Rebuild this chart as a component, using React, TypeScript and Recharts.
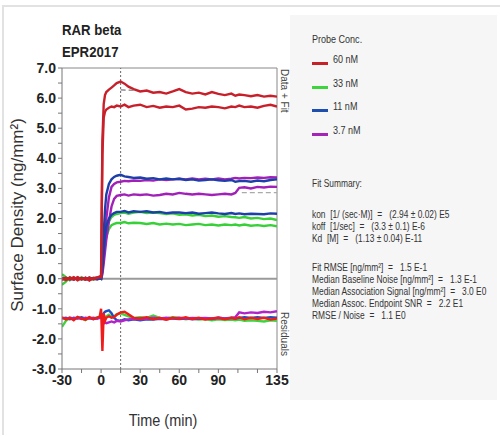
import React from 'react';
import { ComposedChart, Line, XAxis, YAxis, ReferenceLine } from 'recharts';

// sample times (min)
const time = [-30, -27, -24, -21, -18, -15, -12, -9, -6, -3, -1, 0, 1, 2, 3, 4, 6, 8, 10, 12, 15, 18, 21, 25,
  30, 35, 40, 45, 50, 55, 60, 65, 70, 75, 80, 85, 90, 95, 100, 103, 106, 110, 115, 120, 125, 130, 135];

// data + fit traces (ng/mm²)
const red60a = [0.02, -0.05, 0.04, -0.03, 0.05, -0.02, 0.03, -0.06, 0.02, 0.04, 0.08,
  0.1, 4.6, 5.8, 6.1, 6.2, 6.28, 6.35, 6.42, 6.5, 6.55, 6.48, 6.38, 6.3,
  6.22, 6.25, 6.18, 6.2, 6.15, 6.22, 6.3, 6.2, 6.15, 6.18, 6.12, 6.2, 6.14, 6.1, 6.15,
  6.08, 6.12, 6.1, 6.06, 6.1, 6.05, 6.08, 6.05];
const red60b = [-0.04, 0.03, -0.02, 0.05, -0.05, 0.02, -0.03, 0.04, -0.02, 0.03, 0.05,
  0.05, 4.1, 5.35, 5.55, 5.62, 5.68, 5.72, 5.7, 5.75, 5.72, 5.78, 5.7, 5.75,
  5.78, 5.7, 5.74, 5.68, 5.72, 5.7, 5.75, 5.62, 5.65, 5.7, 5.68, 5.72, 5.7, 5.66, 5.72,
  5.7, 5.75, 5.7, 5.72, 5.68, 5.74, 5.78, 5.72];
const blue11a = [0.01, -0.03, 0.02, -0.02, 0.03, -0.01, 0.02, -0.04, 0.01, 0.03, 0.02,
  0.0, 0.6, 1.5, 2.3, 2.8, 3.15, 3.3, 3.38, 3.42, 3.45, 3.4, 3.38, 3.35,
  3.36, 3.32, 3.34, 3.3, 3.33, 3.3, 3.32, 3.28, 3.3, 3.26, 3.28, 3.3, 3.27, 3.25, 3.28,
  3.22, 3.24, 3.25, 3.22, 3.26, 3.24, 3.28, 3.3];
const blue11b = [-0.02, 0.02, -0.01, 0.03, -0.02, 0.01, -0.03, 0.02, 0.0, -0.02, 0.01,
  0.0, 0.3, 0.9, 1.4, 1.75, 2.0, 2.12, 2.18, 2.22, 2.22, 2.25, 2.2, 2.24,
  2.22, 2.24, 2.2, 2.22, 2.18, 2.2, 2.2, 2.18, 2.2, 2.16, 2.18, 2.2, 2.17, 2.15, 2.18,
  2.15, 2.17, 2.14, 2.16, 2.15, 2.14, 2.17, 2.16];
const purple37a = [-0.01, 0.02, -0.03, 0.01, 0.02, -0.02, 0.03, -0.01, 0.02, -0.02, 0.0,
  0.0, 0.3, 0.8, 1.4, 2.0, 2.7, 3.05, 3.15, 3.2, 3.22, 3.25, 3.24, 3.26,
  3.25, 3.28, 3.26, 3.3, 3.28, 3.3, 3.32, 3.3, 3.33, 3.3, 3.32, 3.3, 3.33, 3.3, 3.32,
  3.35, 3.33, 3.35, 3.34, 3.36, 3.35, 3.37, 3.36];
const purple37b = [0.02, -0.02, 0.01, -0.03, 0.02, 0.01, -0.02, 0.03, -0.01, 0.02, 0.01,
  0.0, 0.15, 0.5, 0.9, 1.3, 1.9, 2.4, 2.65, 2.75, 2.78, 2.8, 2.76, 2.8,
  2.78, 2.8, 2.76, 2.78, 2.82, 2.8, 2.85, 2.82, 2.8, 2.82, 2.8, 2.78, 2.8, 2.82, 2.8,
  2.85, 3.02, 3.04, 3.0, 3.05, 3.03, 3.06, 3.05];
const green33a = [-0.2, -0.1, 0.05, -0.02, 0.04, -0.03, 0.02, -0.04, 0.03, 0.0, 0.02,
  0.0, 0.3, 0.8, 1.25, 1.6, 1.9, 2.05, 2.12, 2.15, 2.18, 2.2, 2.16, 2.2,
  2.22, 2.18, 2.2, 2.18, 2.15, 2.17, 2.12, 2.14, 2.1, 2.12, 2.08, 2.1, 2.06, 2.08, 2.05,
  2.04, 2.02, 2.05, 2.0, 2.02, 1.98, 2.0, 1.95];
const green33b = [0.15, 0.05, -0.05, 0.03, -0.04, 0.05, -0.02, 0.04, -0.03, 0.02, 0.03,
  0.0, 0.25, 0.7, 1.1, 1.4, 1.65, 1.78, 1.82, 1.85, 1.85, 1.88, 1.84, 1.86,
  1.85, 1.82, 1.85, 1.8, 1.83, 1.8, 1.82, 1.78, 1.8, 1.82, 1.78, 1.8, 1.77, 1.8, 1.78,
  1.8, 1.77, 1.8, 1.76, 1.78, 1.75, 1.78, 1.74];

// residuals, drawn offset around -1.3
const redRes = [-1.28, -1.35, -1.3, -1.38, -1.27, -1.33, -1.36, -1.28, -1.34, -1.3, -1.25,
  -1.0, -2.4, -1.15, -1.4, -1.3, -1.25, -1.3, -1.28, -1.2, -1.12, -1.1, -1.18, -1.3,
  -1.32, -1.28, -1.35, -1.3, -1.36, -1.3, -1.33, -1.28, -1.34, -1.3, -1.36, -1.32, -1.3, -1.35, -1.3,
  -1.33, -1.28, -1.35, -1.3, -1.34, -1.3, -1.36, -1.32];
const greenRes = [-1.6, -1.4, -1.3, -1.35, -1.28, -1.32, -1.38, -1.3, -1.33, -1.28, -1.3,
  -1.25, -1.4, -1.3, -1.35, -1.25, -1.2, -1.28, -1.25, -1.18, -1.15, -1.2, -1.25, -1.3,
  -1.28, -1.3, -1.22, -1.3, -1.32, -1.28, -1.3, -1.35, -1.32, -1.36, -1.34, -1.38, -1.35, -1.37, -1.36,
  -1.38, -1.36, -1.4, -1.38, -1.4, -1.42, -1.38, -1.4];
const blueRes = [-1.32, -1.3, -1.35, -1.3, -1.32, -1.28, -1.33, -1.3, -1.35, -1.3, -1.3,
  -1.3, -1.2, -1.15, -1.1, -1.08, -1.05, -1.15, -1.3, -1.38, -1.4, -1.35, -1.38, -1.35,
  -1.38, -1.35, -1.36, -1.33, -1.35, -1.32, -1.34, -1.32, -1.35, -1.33, -1.32, -1.34, -1.3, -1.32, -1.3,
  -1.32, -1.3, -1.28, -1.3, -1.28, -1.3, -1.28, -1.3];
const purpleRes = [-1.3, -1.33, -1.3, -1.32, -1.3, -1.34, -1.3, -1.32, -1.3, -1.33, -1.3,
  -1.3, -1.35, -1.4, -1.45, -1.48, -1.45, -1.42, -1.45, -1.4, -1.42, -1.38, -1.35, -1.33,
  -1.35, -1.33, -1.3, -1.32, -1.3, -1.32, -1.3, -1.32, -1.3, -1.31, -1.3, -1.32, -1.3, -1.32, -1.3,
  -1.28, -1.12, -1.15, -1.12, -1.14, -1.1, -1.12, -1.08];

// visible pieces of the fit curves
const fitRed = [{ t: 15, v: 6.27 }, { t: 25, v: 6.26 }];
const fitPurple = [{ t: 108, v: 2.86 }, { t: 135, v: 2.86 }];

const xTicks = [-30, -15, 0, 15, 30, 45, 60, 75, 90, 105, 120, 135];
const xLabels = [-30, 0, 30, 60, 90, 135];
const yTicks = [-3, -2.5, -2, -1.5, -1, -0.5, 0, 0.5, 1, 1.5, 2, 2.5, 3, 3.5, 4, 4.5, 5, 5.5, 6, 6.5, 7];

const legendNames = ['60 nM', '33 nM', '11 nM', '3.7 nM'];
const legendColors = ['#c42228', '#3ed43e', '#1f4fae', '#a424b8'];

const fitSummary = [
  'kon  [1/ (sec·M)]  =   (2.94 ± 0.02) E5',
  'koff  [1/sec]  =   (3.3 ± 0.1) E-6',
  'Kd  [M]  =   (1.13 ± 0.04) E-11',
];
const fitStats = [
  'Fit RMSE [ng/mm²]  =   1.5 E-1',
  'Median Baseline Noise [ng/mm²]  =   1.3 E-1',
  'Median Association Signal [ng/mm²]  =   3.0 E0',
  'Median Assoc. Endpoint SNR  =   2.2 E1',
  'RMSE / Noise  =   1.1 E0',
];

const data = time.map((t, i) => ({
  t,
  red60a: red60a[i], red60b: red60b[i],
  blue11a: blue11a[i], blue11b: blue11b[i],
  purple37a: purple37a[i], purple37b: purple37b[i],
  green33a: green33a[i], green33b: green33b[i],
  redRes: redRes[i], greenRes: greenRes[i], blueRes: blueRes[i], purpleRes: purpleRes[i],
}));

const FONT = "'Liberation Sans', Arial, sans-serif";

const tickStyle = { fontFamily: FONT, fontSize: 14, fontWeight: 700, fill: '#222' };

// condensed look: squeeze text horizontally from its left edge
const narrow = (s: number): React.CSSProperties => ({
  transform: `scaleX(${s})`,
  transformOrigin: 'left top',
  whiteSpace: 'pre',
});

const App: React.FC = () => {
  const traces = [
    { key: 'green33b', color: '#38d038' },
    { key: 'green33a', color: '#38d038' },
    { key: 'purple37b', color: '#a020b8' },
    { key: 'purple37a', color: '#a020b8' },
    { key: 'blue11b', color: '#1c3fa8' },
    { key: 'blue11a', color: '#1c3fa8' },
    { key: 'red60b', color: '#c8202a' },
    { key: 'red60a', color: '#c8202a' },
    { key: 'greenRes', color: '#3ed43e' },
    { key: 'blueRes', color: '#1f4fc0' },
    { key: 'purpleRes', color: '#b024c8' },
    { key: 'redRes', color: '#f01c1c' },
  ];

  return (
    <div style={{ position: 'relative', width: 500, height: 436, background: '#fff', fontFamily: FONT }}>
      <style>{'body{margin:0}'}</style>
      <div style={{ position: 'absolute', left: 2, top: 5, width: 496, height: 428, borderTop: '2px solid #e2e2e2', borderLeft: '2px solid #e2e2e2' }} />
      <div style={{ position: 'absolute', left: 290, top: 15, width: 207, height: 385, background: '#f6f6f6' }} />

      <ComposedChart
        width={500}
        height={436}
        data={data}
        margin={{ top: 68, right: 223, bottom: 8, left: 7 }}
        style={{ position: 'absolute', left: 0, top: 0 }}
      >
        <XAxis
          dataKey="t"
          type="number"
          domain={[-30, 135]}
          ticks={xTicks}
          tickFormatter={(v: number) => (xLabels.includes(v) ? String(v) : '')}
          tick={tickStyle}
          tickSize={4}
          height={59}
          stroke="#777"
          allowDataOverflow
        />
        <YAxis
          type="number"
          domain={[-3, 7]}
          ticks={yTicks}
          tickFormatter={(v: number) => (Number.isInteger(v) ? v.toFixed(1) : '')}
          tick={tickStyle}
          tickSize={4}
          width={55}
          stroke="#777"
          allowDataOverflow
        />
        <ReferenceLine y={7} stroke="#888" />
        <ReferenceLine x={135} stroke="#888" />
        <ReferenceLine y={0} stroke="#9a9a9a" strokeWidth={2} />
        <ReferenceLine x={15} stroke="#666" strokeDasharray="2 2" />
        {traces.map((s) => (
          <Line
            key={s.key}
            dataKey={s.key}
            type="linear"
            stroke={s.color}
            strokeWidth={2.4}
            dot={false}
            isAnimationActive={false}
          />
        ))}
        <Line data={fitRed} dataKey="v" stroke="#777" strokeWidth={1.2} strokeDasharray="5 3" dot={false} isAnimationActive={false} />
        <Line data={fitPurple} dataKey="v" stroke="#aaa" strokeWidth={1.2} strokeDasharray="5 3" dot={false} isAnimationActive={false} />
      </ComposedChart>

      {/* titles */}
      <div style={{ position: 'absolute', left: 62, top: 19, fontSize: 15, fontWeight: 700, lineHeight: '22px', color: '#222', ...narrow(0.88) }}>
        {'RAR beta\nEPR2017'}
      </div>
      <div style={{ position: 'absolute', left: 18, top: 215, transform: 'translate(-50%, -50%) rotate(-90deg)', whiteSpace: 'nowrap', fontSize: 17, color: '#333' }}>
        Surface Density (ng/mm²)
      </div>
      <div style={{ position: 'absolute', left: 163, top: 421, transform: 'translate(-50%, -50%) scaleX(0.85)', whiteSpace: 'nowrap', fontSize: 17, color: '#333' }}>
        Time (min)
      </div>
      <div style={{ position: 'absolute', left: 279, top: 69, writingMode: 'vertical-rl', fontSize: 10, color: '#444' }}>
        Data + Fit
      </div>
      <div style={{ position: 'absolute', left: 279, top: 312, writingMode: 'vertical-rl', fontSize: 10, color: '#444' }}>
        Residuals
      </div>

      {/* legend */}
      <div style={{ position: 'absolute', left: 312, top: 33, fontSize: 11, color: '#333', ...narrow(0.82) }}>Probe Conc.</div>
      {legendNames.map((name, i) => (
        <React.Fragment key={name}>
          <div style={{ position: 'absolute', left: 312, top: 62 + i * 23.5, width: 16, height: 3, background: legendColors[i] }} />
          <div style={{ position: 'absolute', left: 333, top: 53 + i * 23.5, fontSize: 11, color: '#333', ...narrow(0.82) }}>{name}</div>
        </React.Fragment>
      ))}

      {/* fit summary */}
      <div style={{ position: 'absolute', left: 312, top: 177, fontSize: 10.5, color: '#333', lineHeight: '12px', ...narrow(0.8) }}>
        <div>Fit Summary:</div>
        <div style={{ height: 19 }} />
        {fitSummary.map((l) => <div key={l}>{l}</div>)}
        <div style={{ height: 17 }} />
        {fitStats.map((l) => <div key={l}>{l}</div>)}
      </div>
    </div>
  );
};

export default App;
